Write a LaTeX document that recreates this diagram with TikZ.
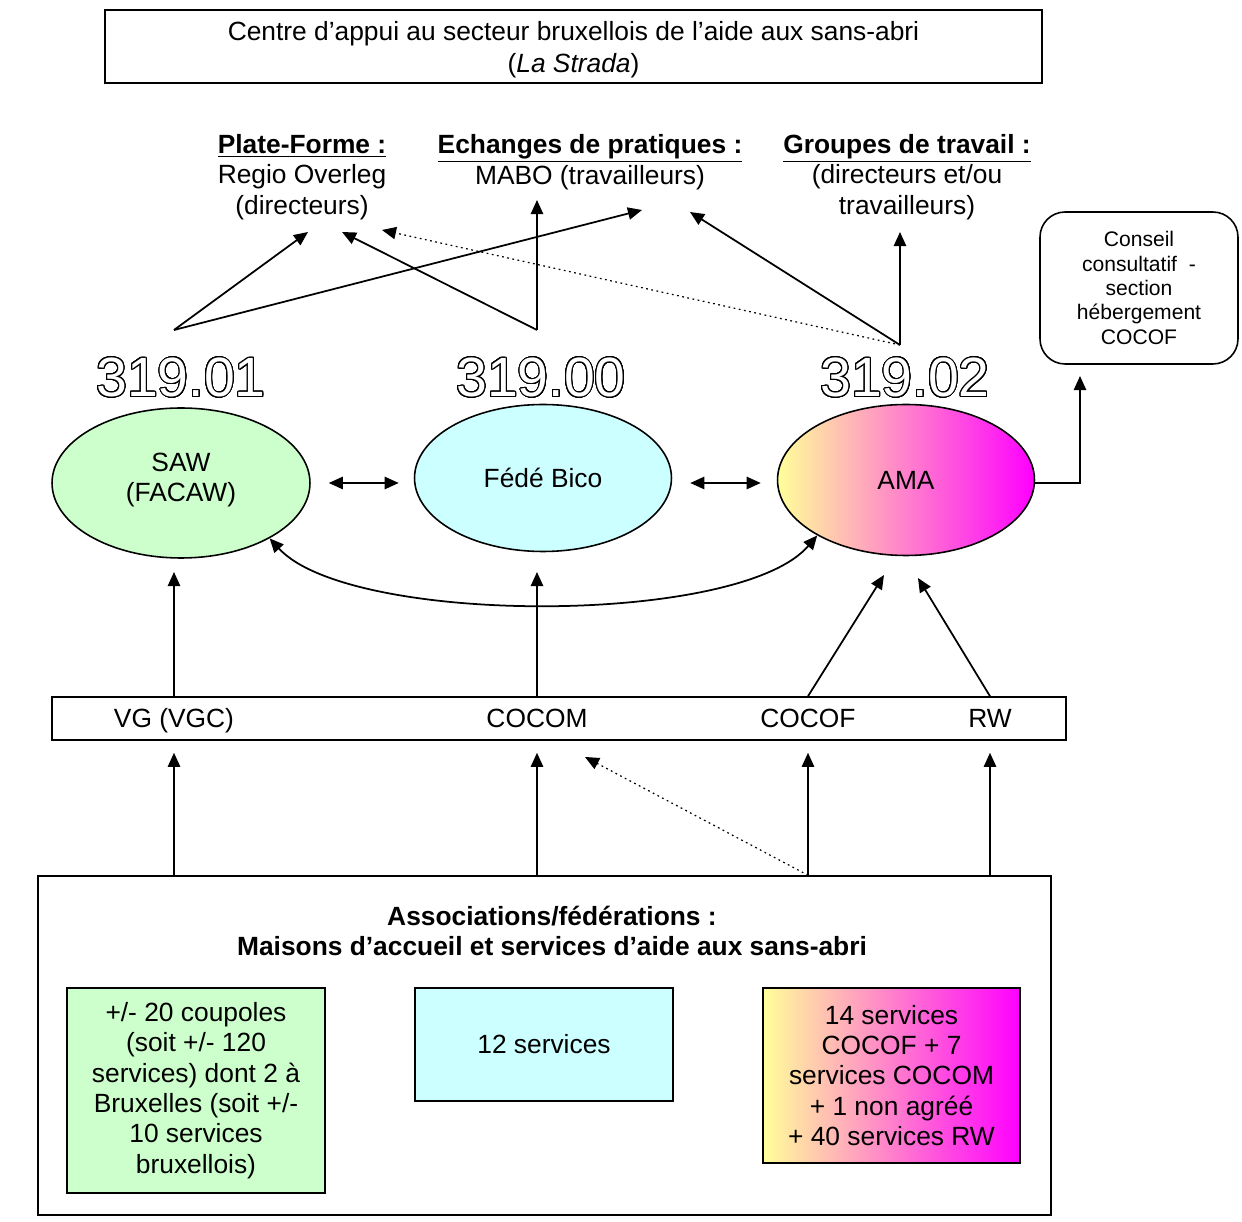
\documentclass[tikz,border=0pt]{standalone}
\usepackage{fontspec}
\setmainfont{Liberation Sans}
\usepackage[copies]{contour}
\usetikzlibrary{arrows.meta,shapes.geometric}

\definecolor{vert}{HTML}{CCFFCC}
\definecolor{bleu}{HTML}{CCFFFF}
\definecolor{jaune}{HTML}{FFFF99}
\definecolor{rose}{HTML}{FFCCCC}
\definecolor{mauve}{HTML}{FF00FF}

\newcommand{\txt}{\fontsize{15}{17.3}\selectfont}
\contourlength{0.6pt}
\contournumber{32}
\newcommand{\chiffre}[1]{\contour{black}{\textcolor{white}{#1}}}

\tikzset{
  fl/.style={-{Triangle[length=8pt,width=7pt]}, line width=1pt},
  dfl/.style={{Triangle[length=8pt,width=7pt]}-{Triangle[length=8pt,width=7pt]}, line width=1pt},
  pointille/.style={fl, dotted, line width=0.7pt},
  boite/.style={draw, line width=0.9pt, align=center, inner sep=0pt},
  ell/.style={ellipse, draw, line width=0.9pt, align=center, inner sep=0pt},
  grad/.style={left color=jaune, middle color=rose, right color=mauve},
  num/.style={font=\fontsize{31.5}{36}\selectfont},
  lbl/.style={anchor=base},
}

\begin{document}
\begin{tikzpicture}[x=0.02cm, y=-0.02cm, font=\txt]
      \useasboundingbox (0,0) rectangle (1242,1222);

      % La Strada
      \node[boite, minimum width=18.74cm, minimum height=1.46cm] (strada) at (573.5,46.5) {};
      \node[align=center, font=\fontsize{15}{18.2}\selectfont] (stradatxt) at (573.5,50)
        {Centre d’appui au secteur bruxellois de l’aide aux sans-abri\\(\textit{La Strada})};

      % Concertation
      \node[align=center] (pf) at (302,177) {\underline{\textbf{Plate-Forme :}}\\Regio Overleg\\(directeurs)};
      \node[align=center] (mabo) at (590,162) {\underline{\textbf{Echanges de pratiques :}}\\MABO (travailleurs)};
      \node[align=center] (gt) at (907,177) {\underline{\textbf{Groupes de travail :}}\\(directeurs et/ou\\travailleurs)};
      \node[boite, rounded corners=0.5cm, minimum width=3.96cm, minimum height=3.04cm,
            font=\fontsize{12}{13.9}\selectfont] (conseil) at (1139,288)
        {Conseil\\consultatif\ \ -\\section\\hébergement\\COCOF};

      % Federations
      \node[num] (n01) at (181,378) {\chiffre{319.01}};
      \node[num] (n00) at (541,378) {\chiffre{319.00}};
      \node[num] (n02) at (905,378) {\chiffre{319.02}};
      \node[ell, fill=vert, minimum width=5.16cm, minimum height=3cm] (saw) at (181,483) {};
      \node[align=center] (sawtxt) at (181,480) {SAW\\(FACAW)};
      \node[ell, fill=bleu, minimum width=5.14cm, minimum height=2.94cm] (bico) at (543,478) {Fédé Bico};
      \node[ell, grad, minimum width=5.14cm, minimum height=3.02cm] (ama) at (906,480) {AMA};

      % Pouvoirs subsidiants
      \node[boite, minimum width=20.28cm, minimum height=0.86cm] (band) at (559,718.5) {};
      \node[lbl] (vg) at (174,728) {VG (VGC)};
      \node[lbl] (cocom) at (537,728) {COCOM};
      \node[lbl] (cocof) at (808,728) {COCOF};
      \node[lbl] (rw) at (990,728) {RW};

      % Associations
      \node[boite, minimum width=20.26cm, minimum height=6.78cm] (assoc) at (544.5,1045.5) {};
      \node[align=center, font=\txt\bfseries] (titre) at (552,931)
        {Associations/fédérations :\\Maisons d’accueil et services d’aide aux sans-abri};
      \node[boite, fill=vert, minimum width=5.16cm, minimum height=4.1cm] (coupoles) at (196,1090.5)
        {+/- 20 coupoles\\(soit +/- 120\\services) dont 2 à\\Bruxelles (soit +/-\\10 services\\bruxellois)};
      \node[boite, fill=bleu, minimum width=5.16cm, minimum height=2.26cm] (douze) at (544,1044.5) {12 services};
      \node[boite, grad, minimum width=5.14cm, minimum height=3.5cm] (quatorze) at (891.5,1075.5)
        {14 services\\COCOF + 7\\services COCOM\\+ 1 non agréé\\+ 40 services RW};

      % Points
      \coordinate (sawhaut) at (174,330);
      \coordinate (bicohaut) at (537,330);
      \coordinate (amahaut) at (900,345);
      \coordinate (pf1) at (308,232);
      \coordinate (pf2) at (342,232);
      \coordinate (pf3) at (382,230);
      \coordinate (mabo1) at (642,210);
      \coordinate (mabo2) at (537,200);
      \coordinate (mabo3) at (690,212);
      \coordinate (gt1) at (900,232);
      \coordinate (consbas) at (1080,376);
      \coordinate (sawbas) at (174,572);
      \coordinate (bicobas) at (537,572);
      \coordinate (amabas1) at (884,575);
      \coordinate (amabas2) at (918,578);
      \coordinate (dots) at (585,757);

      % Vers la concertation
      \draw[fl] (sawhaut) -- (pf1);
      \draw[fl] (sawhaut) -- (mabo1);
      \draw[fl] (bicohaut) -- (pf2);
      \draw[fl] (bicohaut) -- (mabo2);
      \draw[pointille] (amahaut) -- (pf3);
      \draw[fl] (amahaut) -- (mabo3);
      \draw[fl] (amahaut) -- (gt1);
      \draw[fl] (ama.east |- saw.east) -| (consbas);

      % Entre federations
      \draw[dfl, shorten <=0.36cm, shorten >=0.3cm] (saw.east) -- (bico.west |- saw.east);
      \draw[dfl, shorten <=0.36cm, shorten >=0.32cm] (bico.east |- saw.east) -- (ama.west |- saw.east);
      \draw[dfl] (saw.-32) .. controls (350,626) and (740,626) .. (ama.-148);

      % Subsides
      \draw[fl] (band.north -| sawbas) -- (sawbas);
      \draw[fl] (band.north -| bicobas) -- (bicobas);
      \draw[fl] (band.north -| cocof) -- (amabas1);
      \draw[fl] (band.north -| rw) -- (amabas2);
      \foreach \n in {vg,cocom,cocof,rw}
        \draw[fl, shorten >=0.24cm] (assoc.north -| \n) -- (band.south -| \n);
      \draw[pointille] (assoc.north -| cocof) -- (dots);
\end{tikzpicture}
\end{document}
